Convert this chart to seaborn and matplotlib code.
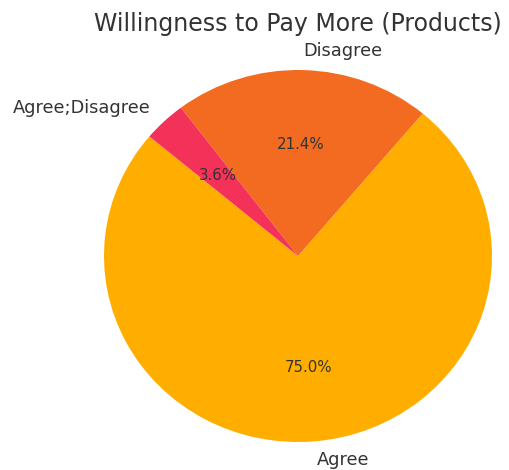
import matplotlib
matplotlib.use("Agg")
import matplotlib.pyplot as plt
import seaborn as sns

labels = ["Agree", "Disagree", "Agree;Disagree"]
counts = [21, 6, 1]
colors = ["#FFAE00", "#F26B21", "#F43159"]
title = "Willingness to Pay More (Products)"

sns.set_theme(style="white")
plt.rcParams["font.family"] = ["DejaVu Sans"]

fig = plt.figure(figsize=(5.09, 4.70), dpi=100)
W, H = 509, 470
ax = fig.add_axes([104 / W, (H - 442) / H, 388 / W, 372 / H])
wedges, texts, autotexts = ax.pie(
    counts, labels=labels, colors=colors, autopct="%1.1f%%",
    startangle=140, textprops=dict(color="#333333", fontsize=12.8),
    wedgeprops=dict(linewidth=0, edgecolor="none"),
)
for t in autotexts:
    t.set_fontsize(10.8)
ax.set_aspect("auto")
ax.set_xlim(-1, 1)
ax.set_ylim(-1, 1)
ax.set_title(title, fontsize=17, color="#333333", pad=28)
fig.savefig("out.png", dpi=100)
